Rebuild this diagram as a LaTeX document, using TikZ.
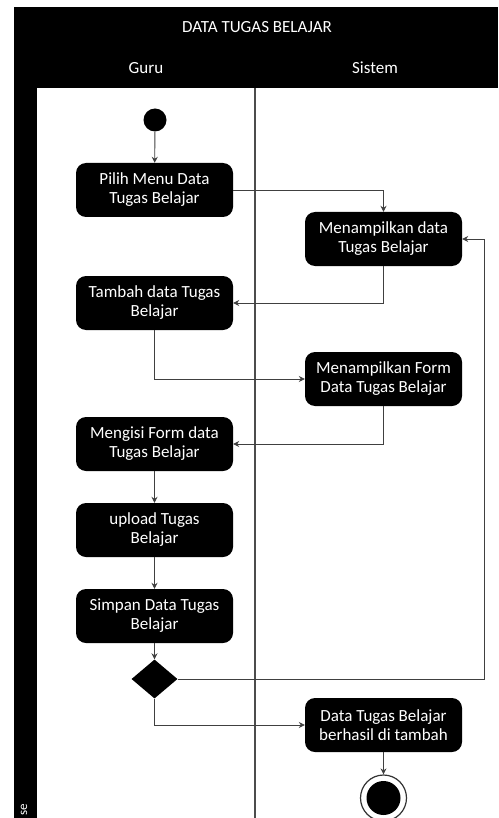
\documentclass[tikz,border=0pt]{standalone}
\usepackage{fontspec}
\setmainfont{Carlito}
\usetikzlibrary{arrows.meta}
\usetikzlibrary{shapes.geometric}
\tikzset{
  aksi/.style = {rectangle, rounded corners=10pt, fill=black, text=white,
    minimum width=157pt, minimum height=54pt, align=center, inner sep=2pt}
}
\tikzset{
  every node/.style = {font = \fontsize{17}{19}\selectfont}
}
\tikzset{
  alur/.style = {draw=black!75, line width=0.9pt, ->}
}
\tikzset{
    >={Stealth[length=6pt, width=6pt]}
}

\begin{document}
\begin{tikzpicture}[x=1pt, y=-1pt]
  \useasboundingbox (0,0) rectangle (498,818);

  % swimlanes
  \fill[black] (14,7) rectangle (498,88);
  \fill[black] (14,88) rectangle (37,818);
  \draw[black!70, line width=1.2pt] (255,88) -- (255,818);
  \node[text=white] (judul) at (257,27) {DATA TUGAS BELAJAR};
  \node[text=white] (guru) at (146,68) {Guru};
  \node[text=white] (sistem) at (375,68) {Sistem};
  \node[text=white, rotate=90, font=\fontsize{13}{15}\selectfont] (fase) at (24,810) {se};

  % aktivitas
  \node[circle, fill=black, minimum size=23pt, inner sep=0] (mulai) at (155,120) {};
  \node[aksi] (pilih) at (154.5,190) {Pilih Menu Data\\Tugas Belajar};
  \node[aksi] (tampil) at (383.5,239) {Menampilkan data\\Tugas Belajar};
  \node[aksi] (tambah) at (154.5,303) {Tambah data Tugas\\Belajar};
  \node[aksi] (form) at (383.5,379) {Menampilkan Form\\Data Tugas Belajar};
  \node[aksi] (isi) at (154.5,444) {Mengisi Form data\\Tugas Belajar};
  \node[aksi] (upload) at (154.5,530) {upload Tugas\\Belajar};
  \node[aksi] (simpan) at (154.5,616) {Simpan Data Tugas\\Belajar};
  \node[diamond, fill=black, minimum width=46pt, minimum height=39pt,
    aspect=1.18, inner sep=0] (cek) at (154.5,679) {};
  \node[aksi] (berhasil) at (383.5,725) {Data Tugas Belajar\\berhasil di tambah};
  \node[circle, draw=black!80, line width=1.2pt, fill=white, minimum size=46pt,
    inner sep=0] (akhir) at (383.5,798) {};
  \fill[black] (akhir.center) circle (17);
  \coordinate (balik) at (484,679);

  % alur
  \draw[alur] (mulai) -- (pilih);
  \draw[alur] (pilih) -| (tampil);
  \draw[alur] (tampil) |- (tambah);
  \draw[alur] (tambah) |- (form);
  \draw[alur] (form) |- (isi);
  \draw[alur] (isi) -- (upload);
  \draw[alur] (upload) -- (simpan);
  \draw[alur] (simpan) -- (cek);
  \draw[alur] (cek) -- (balik) |- (tampil);
  \draw[alur] (cek) |- (berhasil);
  \draw[alur] (berhasil) -- (akhir);
\end{tikzpicture}
\end{document}
